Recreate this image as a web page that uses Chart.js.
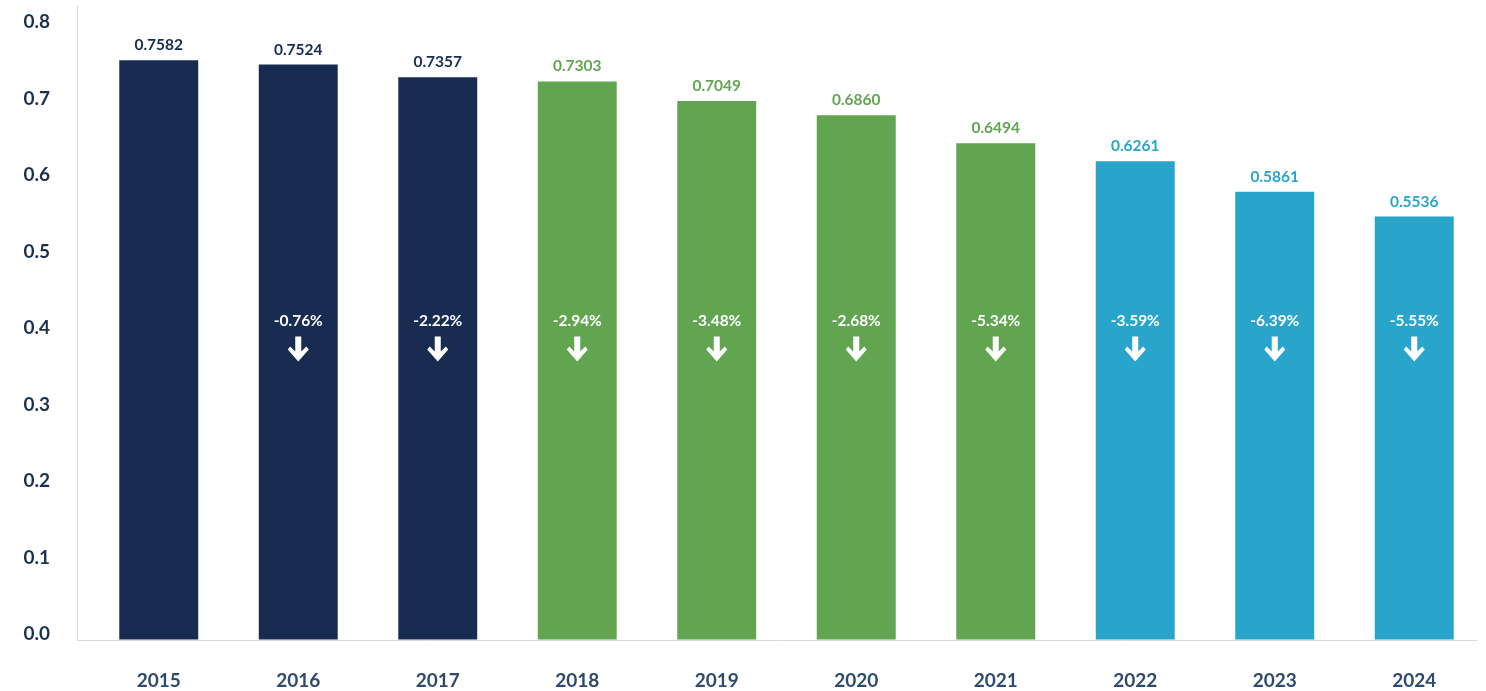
<!DOCTYPE html>
<html>
<head>
<meta charset="utf-8">
<script src="https://cdn.jsdelivr.net/npm/chart.js@4/dist/chart.umd.min.js"></script>
<style>
  html, body { margin: 0; padding: 0; background: #ffffff; }
  #wrap { width: 1486px; height: 691px; position: relative; }
</style>
</head>
<body>
<div id="wrap"><canvas id="c" width="1486" height="691"></canvas></div>
<script>
const years = ['2015', '2016', '2017', '2018', '2019', '2020', '2021', '2022', '2023', '2024'];
const values = [0.7582, 0.7524, 0.7357, 0.7303, 0.7049, 0.6860, 0.6494, 0.6261, 0.5861, 0.5536];
const changes = [null, '-0.76%', '-2.22%', '-2.94%', '-3.48%', '-2.68%', '-5.34%', '-3.59%', '-6.39%', '-5.55%'];
const groups = [0, 0, 0, 1, 1, 1, 1, 2, 2, 2];
const groupColors = ['#172c50', '#62a551', '#29a4cb'];
const yTicks = [0, 0.1, 0.2, 0.3, 0.4, 0.5, 0.6, 0.7, 0.8];
const yMax = 0.829;
const changeLabelValue = 0.417;
const arrowTopValue = 0.397;

const FONT = 'Lato, "Open Sans", sans-serif';
const barColors = groups.map(g => groupColors[g]);

const decorPlugin = {
  id: 'decor',
  beforeDatasetsDraw(chart) {
    const { ctx, chartArea } = chart;
    const left = chartArea.left - 12;
    const right = chartArea.right - 7;
    ctx.save();
    ctx.strokeStyle = '#d9d9d9';
    ctx.lineWidth = 1;
    ctx.beginPath();
    ctx.moveTo(left + 0.5, chartArea.top);
    ctx.lineTo(left + 0.5, chartArea.bottom + 0.5);
    ctx.lineTo(right, chartArea.bottom + 0.5);
    ctx.stroke();
    ctx.restore();
  },
  afterDatasetsDraw(chart) {
    const { ctx } = chart;
    const meta = chart.getDatasetMeta(0);
    const y = chart.scales.y;
    ctx.save();
    ctx.textAlign = 'center';
    ctx.textBaseline = 'middle';
    ctx.font = 'bold 15.5px ' + FONT;
    meta.data.forEach((bar, i) => {
      ctx.fillStyle = barColors[i];
      ctx.fillText(values[i].toFixed(4), bar.x, bar.y - 15);
      if (changes[i]) {
        ctx.fillStyle = '#ffffff';
        ctx.fillText(changes[i], bar.x, y.getPixelForValue(changeLabelValue));
        const t = y.getPixelForValue(arrowTopValue);
        const x = bar.x;
        ctx.beginPath();
        ctx.moveTo(x - 3, t);
        ctx.lineTo(x + 3, t);
        ctx.lineTo(x + 3, t + 15);
        ctx.lineTo(x + 8, t + 10);
        ctx.lineTo(x + 10.5, t + 13);
        ctx.lineTo(x, t + 25);
        ctx.lineTo(x - 10.5, t + 13);
        ctx.lineTo(x - 8, t + 10);
        ctx.lineTo(x - 3, t + 15);
        ctx.closePath();
        ctx.fill();
      }
    });
    ctx.restore();
  }
};

new Chart(document.getElementById('c'), {
  type: 'bar',
  data: {
    labels: years,
    datasets: [{
      data: values,
      backgroundColor: barColors,
      borderWidth: 0,
      barPercentage: 0.566,
      categoryPercentage: 1.0
    }]
  },
  options: {
    responsive: false,
    animation: false,
    layout: { padding: { left: 0, right: 2, top: 6, bottom: 0 } },
    plugins: { legend: { display: false }, tooltip: { enabled: false } },
    scales: {
      x: {
        grid: { display: true, color: 'rgba(0,0,0,0)', drawOnChartArea: false, drawTicks: true, tickLength: 29 },
        border: { display: false },
        ticks: {
          padding: 0,
          color: '#2e4a6c',
          font: { family: FONT, size: 19, weight: 'bold' },
          maxRotation: 0
        },
        afterFit(scale) { scale.height = 51; }
      },
      y: {
        min: 0,
        max: yMax,
        grid: { display: true, color: 'rgba(0,0,0,0)', drawOnChartArea: false, drawTicks: true, tickLength: 39 },
        border: { display: false },
        afterBuildTicks(scale) { scale.ticks = yTicks.map(v => ({ value: v })); },
        ticks: {
          padding: 0,
          labelOffset: -6,
          color: '#1b3050',
          font: { family: FONT, size: 19, weight: 'bold', lineHeight: 0.6 },
          callback: v => Number(v).toFixed(1)
        },
        afterFit(scale) { scale.width = 89; }
      }
    }
  },
  plugins: [decorPlugin]
});
</script>
</body>
</html>
